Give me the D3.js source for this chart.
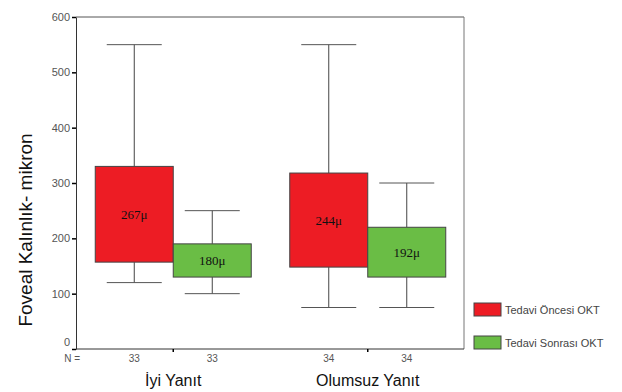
<!DOCTYPE html>
<html><head><meta charset="utf-8">
<script src="https://cdn.jsdelivr.net/npm/d3@7"></script>
<style>body{margin:0;background:#fff}svg{display:block}</style>
</head><body>
<svg id="c" width="622" height="392"></svg>
<script>
const groups = ["İyi Yanıt", "Olumsuz Yanıt"];
const series = ["Tedavi Öncesi OKT", "Tedavi Sonrası OKT"];
const colors = ["#ED1C24", "#6ABD45"];
// per group, per series
const whiskerLow  = [[120, 100], [75, 75]];
const boxLow      = [[157, 130], [148, 130]];
const boxHigh     = [[330, 190], [318, 220]];
const whiskerHigh = [[550, 250], [550, 300]];
const meanLabels  = [["267μ", "180μ"], ["244μ", "192μ"]];
const nCounts     = [[33, 33], [34, 34]];
const yTicks = [0, 100, 200, 300, 400, 500, 600];

const svg = d3.select("#c");
const L = 76, R = 464, T = 17, B = 349;
const y = d3.scaleLinear().domain([0, 600]).range([B, T]);
const x = d3.scaleBand().domain(groups).range([L, 465]);
const sub = d3.scaleBand().domain(series).range([-78, 78]);
const bw = sub.bandwidth();
const cap = 55;

// frame
svg.append("line").attr("x1", L).attr("x2", R).attr("y1", T).attr("y2", T).attr("stroke", "#555");
svg.append("line").attr("x1", R).attr("x2", R).attr("y1", T).attr("y2", B).attr("stroke", "#777");
svg.append("line").attr("x1", L).attr("x2", R).attr("y1", B).attr("y2", B).attr("stroke", "#333");

// y axis
const ya = svg.append("g").attr("transform", `translate(${L},0)`)
  .call(d3.axisLeft(y).tickValues(yTicks).tickSize(4).tickSizeOuter(0));
ya.select(".domain").attr("stroke", "#333");
ya.selectAll(".tick line").attr("stroke", "#000").attr("stroke-width", 1.5);
ya.selectAll(".tick text").attr("font-family", "Arial, 'Liberation Sans', sans-serif")
  .attr("font-size", 11).attr("fill", "#555").attr("x", -6);
ya.selectAll(".tick").filter(d => d === 0).select("text").attr("dy", "-0.3em");

// x tick marks at group centers
svg.selectAll(".xt").data(groups).enter().append("line")
  .attr("x1", d => x(d) + x.bandwidth() / 2).attr("x2", d => x(d) + x.bandwidth() / 2)
  .attr("y1", B).attr("y2", B + 3).attr("stroke", "#000").attr("stroke-width", 1.5);

// boxes
groups.forEach((g, gi) => {
  const cx0 = x(g) + x.bandwidth() / 2;
  series.forEach((s, si) => {
    const x0 = cx0 + sub(s), cx = x0 + bw / 2;
    const gg = svg.append("g");
    gg.append("line").attr("x1", cx).attr("x2", cx)
      .attr("y1", y(whiskerHigh[gi][si])).attr("y2", y(boxHigh[gi][si])).attr("stroke", "#444");
    gg.append("line").attr("x1", cx).attr("x2", cx)
      .attr("y1", y(boxLow[gi][si])).attr("y2", y(whiskerLow[gi][si])).attr("stroke", "#444");
    gg.append("line").attr("x1", cx - cap / 2).attr("x2", cx + cap / 2)
      .attr("y1", y(whiskerHigh[gi][si])).attr("y2", y(whiskerHigh[gi][si])).attr("stroke", "#555");
    gg.append("line").attr("x1", cx - cap / 2).attr("x2", cx + cap / 2)
      .attr("y1", y(whiskerLow[gi][si])).attr("y2", y(whiskerLow[gi][si])).attr("stroke", "#555");
    gg.append("rect").attr("x", x0).attr("width", bw)
      .attr("y", y(boxHigh[gi][si])).attr("height", y(boxLow[gi][si]) - y(boxHigh[gi][si]))
      .attr("fill", colors[si]).attr("stroke", "#444").attr("stroke-width", 1);
    gg.append("text").attr("x", cx).attr("y", (y(boxHigh[gi][si]) + y(boxLow[gi][si])) / 2)
      .attr("dy", "0.35em").attr("text-anchor", "middle")
      .attr("font-family", "'Liberation Serif', 'Times New Roman', serif").attr("font-size", 13)
      .attr("fill", "#111").text(meanLabels[gi][si]);
    svg.append("text").attr("x", cx).attr("y", 362).attr("text-anchor", "middle")
      .attr("font-family", "Arial, 'Liberation Sans', sans-serif").attr("font-size", 10)
      .attr("fill", "#555").text(nCounts[gi][si]);
  });
  svg.append("text").attr("x", cx0).attr("y", 386).attr("text-anchor", "middle")
    .attr("font-family", "Arial, 'Liberation Sans', sans-serif").attr("font-size", 16)
    .attr("fill", "#111").text(g);
});

svg.append("text").attr("x", 80).attr("y", 362).attr("text-anchor", "end")
  .attr("font-family", "Arial, 'Liberation Sans', sans-serif").attr("font-size", 10)
  .attr("fill", "#555").text("N =");

// y title
svg.append("text").attr("transform", "translate(32,230) rotate(-90)").attr("text-anchor", "middle")
  .attr("font-family", "Arial, 'Liberation Sans', sans-serif").attr("font-size", 19)
  .attr("fill", "#111").text("Foveal Kalınlık- mikron");

// legend
series.forEach((s, i) => {
  const ly = 303 + i * 33;
  svg.append("rect").attr("x", 474).attr("y", ly).attr("width", 27).attr("height", 13)
    .attr("fill", colors[i]).attr("stroke", "#444");
  svg.append("text").attr("x", 505).attr("y", ly + 7).attr("dy", "0.35em")
    .attr("font-family", "Arial, 'Liberation Sans', sans-serif").attr("font-size", 11)
    .attr("fill", "#444").text(s);
});
</script>
</body></html>
